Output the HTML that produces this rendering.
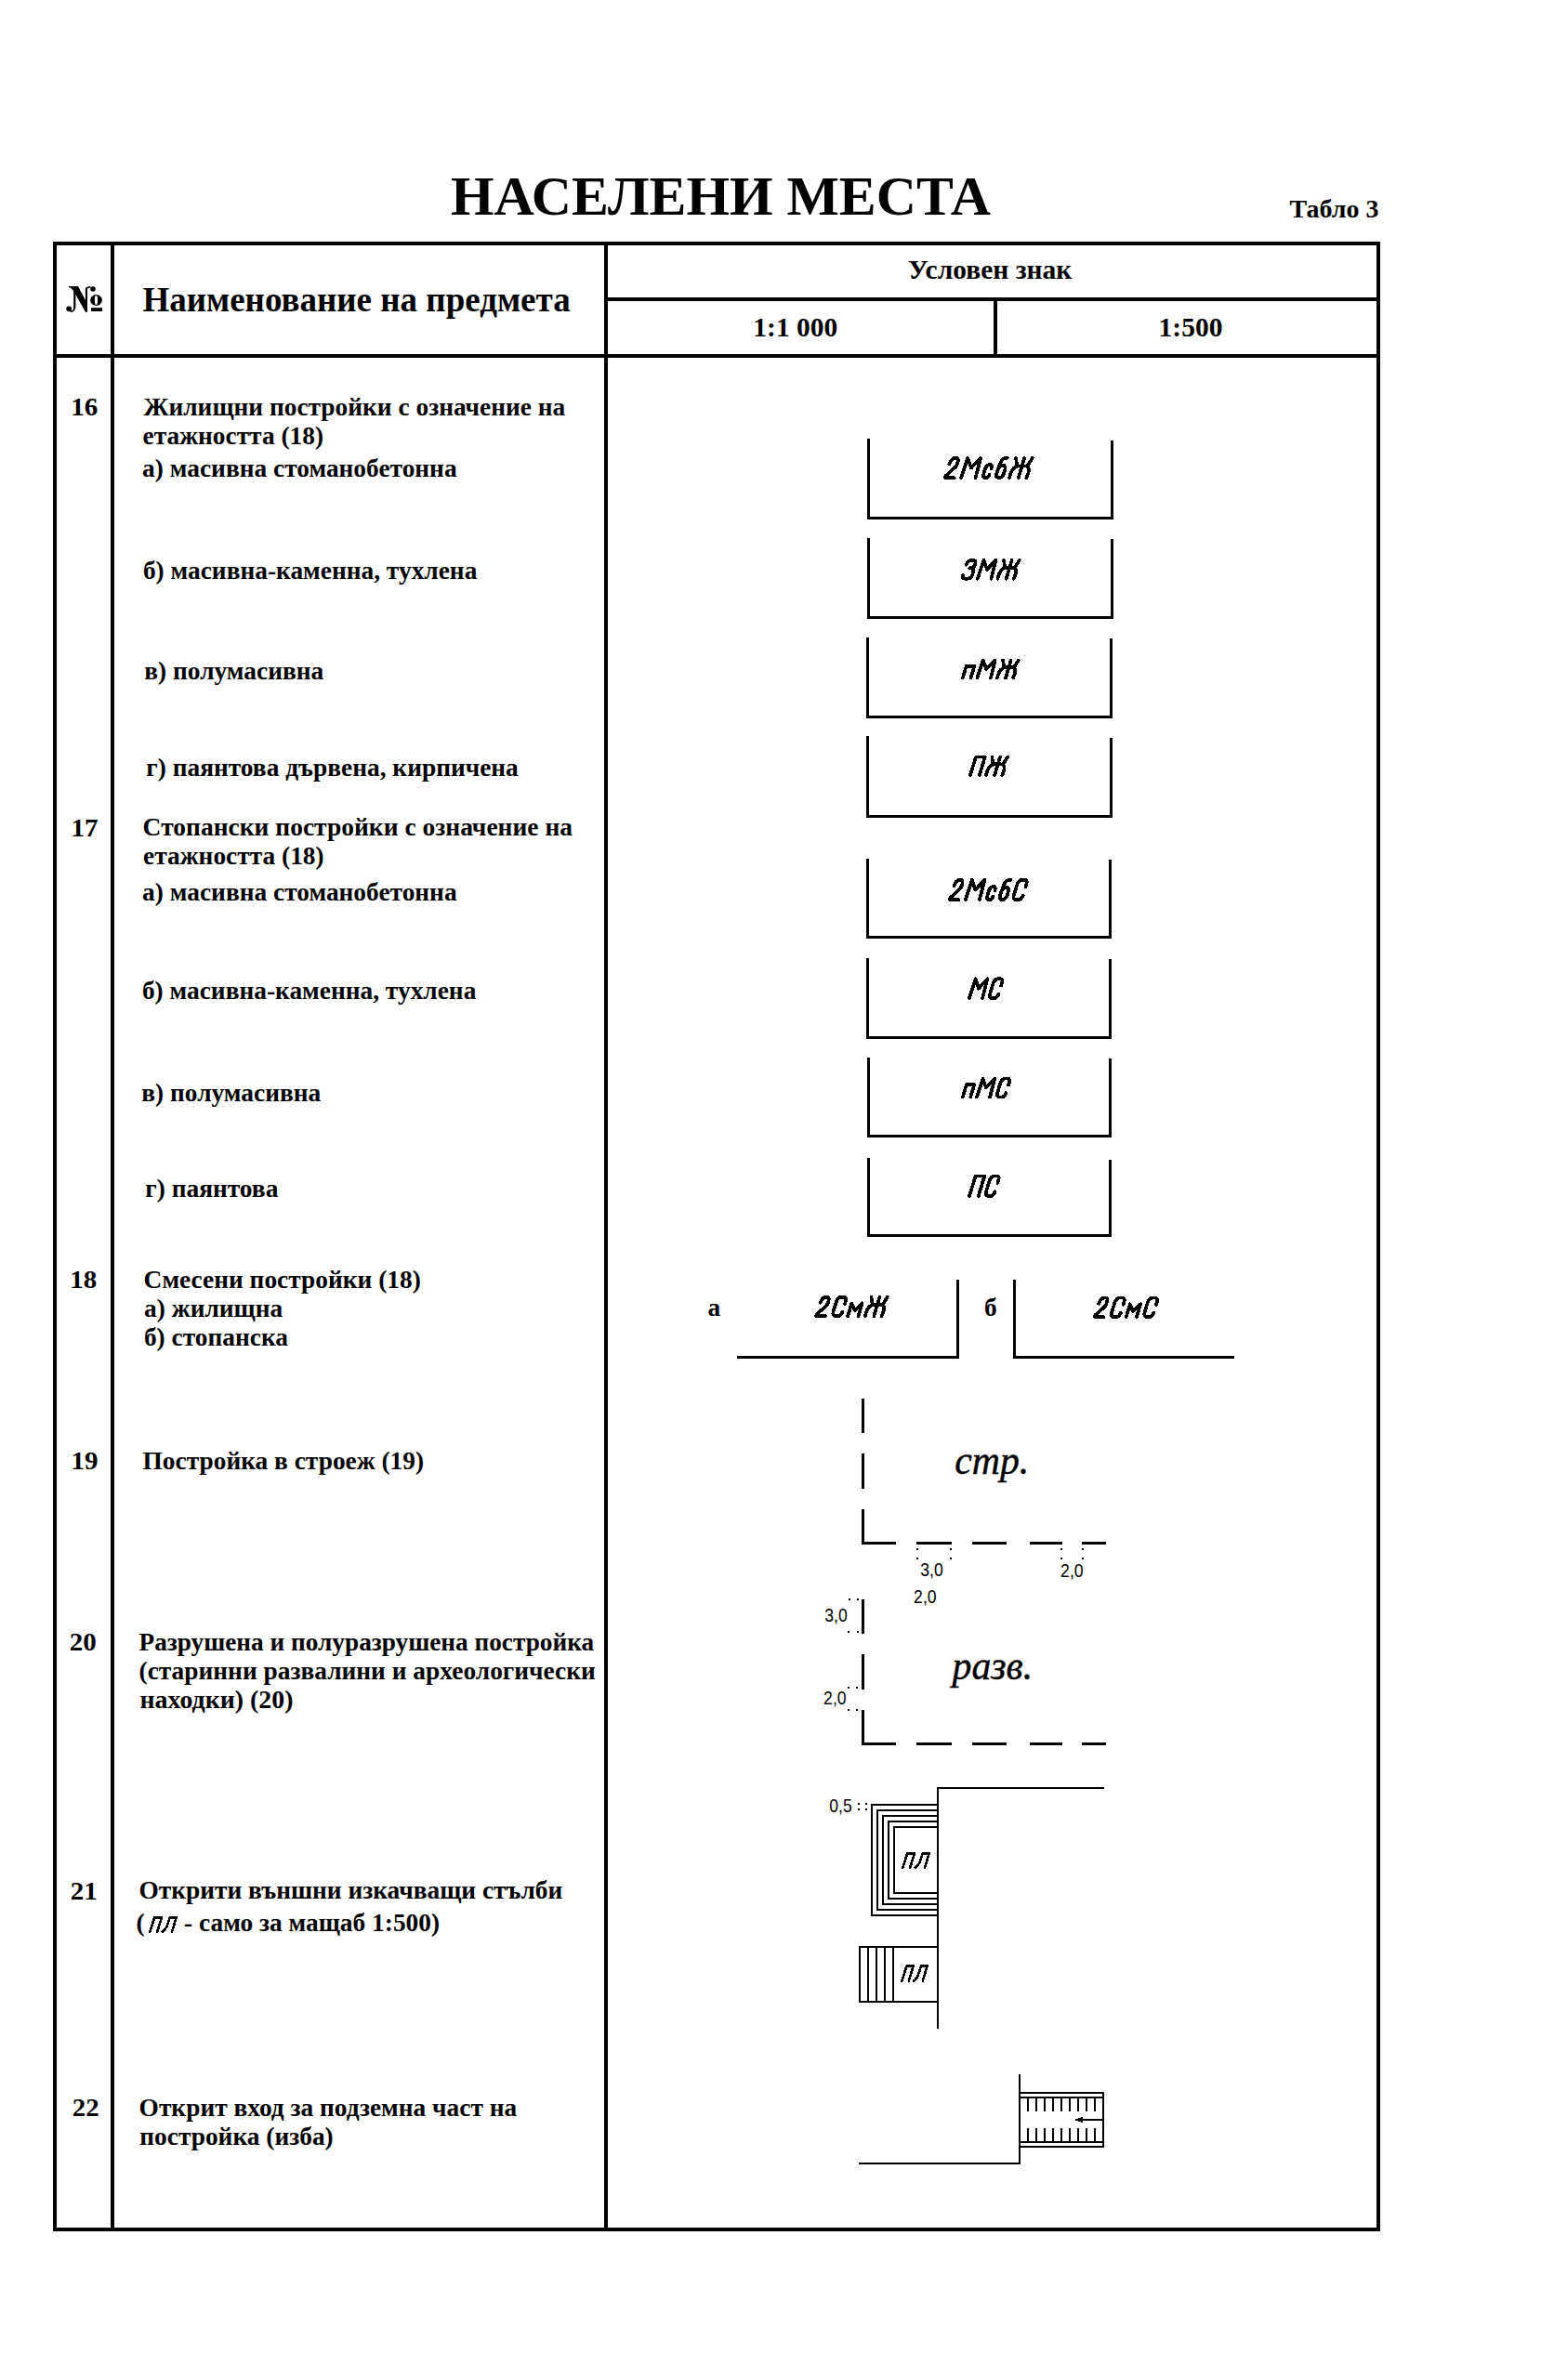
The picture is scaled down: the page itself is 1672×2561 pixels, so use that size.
<!DOCTYPE html>
<html><head><meta charset="utf-8"><style>
html,body{margin:0;padding:0;background:#fff;}
body{width:1672px;height:2561px;overflow:hidden;}
svg{display:block;}
text{fill:#000;}
</style></head><body>
<svg width="1672" height="2561" viewBox="0 0 1672 2561" shape-rendering="crispEdges">
<rect x="0" y="0" width="1672" height="2561" fill="#fff"/>
<text x="485.00" y="231" font-family="'Liberation Serif', serif" font-weight="bold" font-style="normal" font-size="59.8">НАСЕЛЕНИ МЕСТА</text>
<text x="1387.50" y="234" font-family="'Liberation Serif', serif" font-weight="bold" font-style="normal" font-size="28">Табло 3</text>
<rect x="57" y="260" width="1428" height="4"/>
<rect x="57" y="2397" width="1428" height="4"/>
<rect x="57" y="260" width="4" height="2141"/>
<rect x="1481" y="260" width="4" height="2141"/>
<rect x="119" y="260" width="4" height="2141"/>
<rect x="650" y="260" width="4" height="2141"/>
<rect x="650" y="320" width="835" height="4"/>
<rect x="57" y="381" width="1428" height="4"/>
<rect x="1069" y="320" width="4" height="65"/>
<g shape-rendering="geometricPrecision"><polygon points="74.5,308 84,308 94,327 94,335.5 91.8,335.5 79.5,313.5"/><rect x="79.2" y="309" width="2.2" height="22.5"/><path d="M80.3,330 Q80.3,335.3 75.5,335.3" fill="none" stroke="#000" stroke-width="1.6"/><circle cx="74.2" cy="332.3" r="2.9"/><rect x="74" y="308" width="6" height="1.4"/><rect x="91.9" y="309.5" width="2.1" height="26"/><path d="M93,312 Q93,308.7 97.5,308.7" fill="none" stroke="#000" stroke-width="1.6"/><circle cx="100" cy="311" r="2.8"/><ellipse cx="103.5" cy="323" rx="6.4" ry="6.1"/><ellipse cx="103.5" cy="323" rx="1.6" ry="5" fill="#fff"/><rect x="98" y="331.2" width="12" height="3.8"/></g>
<text x="153.38" y="335" font-family="'Liberation Serif', serif" font-weight="bold" font-style="normal" font-size="37">Наименование на предмета</text>
<text x="977.12" y="300" font-family="'Liberation Serif', serif" font-weight="bold" font-style="normal" font-size="29.5">Условен знак</text>
<text x="810.33" y="362" font-family="'Liberation Serif', serif" font-weight="bold" font-style="normal" font-size="29.5">1:1 000</text>
<text x="1246.62" y="362" font-family="'Liberation Serif', serif" font-weight="bold" font-style="normal" font-size="29.5">1:500</text>
<text transform="translate(76.31,447) scale(1.06,1)" x="0" y="0" font-family="'Liberation Serif', serif" font-weight="bold" font-style="normal" font-size="27.4">16</text>
<text transform="translate(76.61,900) scale(1.06,1)" x="0" y="0" font-family="'Liberation Serif', serif" font-weight="bold" font-style="normal" font-size="27.4">17</text>
<text transform="translate(75.31,1386) scale(1.06,1)" x="0" y="0" font-family="'Liberation Serif', serif" font-weight="bold" font-style="normal" font-size="27.4">18</text>
<text transform="translate(76.61,1581) scale(1.06,1)" x="0" y="0" font-family="'Liberation Serif', serif" font-weight="bold" font-style="normal" font-size="27.4">19</text>
<text transform="translate(74.81,1776) scale(1.06,1)" x="0" y="0" font-family="'Liberation Serif', serif" font-weight="bold" font-style="normal" font-size="27.4">20</text>
<text transform="translate(75.81,2044) scale(1.06,1)" x="0" y="0" font-family="'Liberation Serif', serif" font-weight="bold" font-style="normal" font-size="27.4">21</text>
<text transform="translate(77.81,2277) scale(1.06,1)" x="0" y="0" font-family="'Liberation Serif', serif" font-weight="bold" font-style="normal" font-size="27.4">22</text>
<text x="154.40" y="447" font-family="'Liberation Serif', serif" font-weight="bold" font-style="normal" font-size="27.4">Жилищни постройки с означение на</text>
<text x="153.53" y="478" font-family="'Liberation Serif', serif" font-weight="bold" font-style="normal" font-size="27.4">етажността (18)</text>
<text x="153.12" y="512.5" font-family="'Liberation Serif', serif" font-weight="bold" font-style="normal" font-size="27.4">а) масивна стоманобетонна</text>
<text x="153.88" y="623" font-family="'Liberation Serif', serif" font-weight="bold" font-style="normal" font-size="27.4">б) масивна-каменна, тухлена</text>
<text x="155.25" y="730.5" font-family="'Liberation Serif', serif" font-weight="bold" font-style="normal" font-size="27.4">в) полумасивна</text>
<text x="157.25" y="835" font-family="'Liberation Serif', serif" font-weight="bold" font-style="normal" font-size="27.4">г) паянтова дървена, кирпичена</text>
<text transform="translate(153.62,899) scale(1.0044,1)" x="0" y="0" font-family="'Liberation Serif', serif" font-weight="bold" font-style="normal" font-size="27.4">Стопански постройки с означение на</text>
<text x="154.12" y="930" font-family="'Liberation Serif', serif" font-weight="bold" font-style="normal" font-size="27.4">етажността (18)</text>
<text x="153.12" y="969" font-family="'Liberation Serif', serif" font-weight="bold" font-style="normal" font-size="27.4">а) масивна стоманобетонна</text>
<text x="152.88" y="1075" font-family="'Liberation Serif', serif" font-weight="bold" font-style="normal" font-size="27.4">б) масивна-каменна, тухлена</text>
<text x="152.25" y="1185" font-family="'Liberation Serif', serif" font-weight="bold" font-style="normal" font-size="27.4">в) полумасивна</text>
<text x="156.25" y="1288" font-family="'Liberation Serif', serif" font-weight="bold" font-style="normal" font-size="27.4">г) паянтова</text>
<text x="154.62" y="1386" font-family="'Liberation Serif', serif" font-weight="bold" font-style="normal" font-size="27.4">Смесени постройки (18)</text>
<text x="155.12" y="1417" font-family="'Liberation Serif', serif" font-weight="bold" font-style="normal" font-size="27.4">а) жилищна</text>
<text x="154.88" y="1448" font-family="'Liberation Serif', serif" font-weight="bold" font-style="normal" font-size="27.4">б) стопанска</text>
<text x="153.50" y="1581" font-family="'Liberation Serif', serif" font-weight="bold" font-style="normal" font-size="27.4">Постройка в строеж (19)</text>
<text transform="translate(149.50,1776) scale(0.996,1)" x="0" y="0" font-family="'Liberation Serif', serif" font-weight="bold" font-style="normal" font-size="27.4">Разрушена и полуразрушена постройка</text>
<text x="149.55" y="1807" font-family="'Liberation Serif', serif" font-weight="bold" font-style="normal" font-size="27.4">(старинни развалини и археологически</text>
<text transform="translate(150.54,1838) scale(1.018,1)" x="0" y="0" font-family="'Liberation Serif', serif" font-weight="bold" font-style="normal" font-size="27.4">находки) (20)</text>
<text x="149.43" y="2043" font-family="'Liberation Serif', serif" font-weight="bold" font-style="normal" font-size="27.4">Открити външни изкачващи стълби</text>
<text x="149.62" y="2277" font-family="'Liberation Serif', serif" font-weight="bold" font-style="normal" font-size="27.4">Открит вход за подземна част на</text>
<text x="150.25" y="2308" font-family="'Liberation Serif', serif" font-weight="bold" font-style="normal" font-size="27.4">постройка (изба)</text>
<text x="146.45" y="2078" font-family="'Liberation Serif', serif" font-weight="bold" font-style="normal" font-size="27.4">(</text>
<path d="M0,0 L0.02,1 L0.52,1 L0.52,0" transform="matrix(15.244,0,4.620,-15.400,161.30,2078.70)" fill="none" stroke="#000" stroke-width="2.6" stroke-linejoin="round" stroke-linecap="round" vector-effect="non-scaling-stroke"/>
<path d="M0,0 Q0.2,0.12 0.22,0.6 L0.22,1 L0.68,1 L0.68,0" transform="matrix(15.244,0,4.620,-15.400,174.71,2078.70)" fill="none" stroke="#000" stroke-width="2.6" stroke-linejoin="round" stroke-linecap="round" vector-effect="non-scaling-stroke"/>
<text x="198.00" y="2078" font-family="'Liberation Serif', serif" font-weight="bold" font-style="normal" font-size="27.4">- само за мащаб 1:500)</text>
<rect x="933" y="472" width="3" height="87"/>
<rect x="1195" y="474" width="3" height="85"/>
<rect x="933" y="556" width="265" height="3"/>
<rect x="933" y="579" width="3" height="87"/>
<rect x="1195" y="580" width="3" height="86"/>
<rect x="933" y="663" width="265" height="3"/>
<rect x="932" y="686" width="3" height="87"/>
<rect x="1194" y="687" width="3" height="86"/>
<rect x="932" y="770" width="265" height="3"/>
<rect x="932" y="792" width="3" height="88"/>
<rect x="1194" y="794" width="3" height="86"/>
<rect x="932" y="877" width="265" height="3"/>
<rect x="932" y="924" width="3" height="86"/>
<rect x="1193" y="925" width="3" height="85"/>
<rect x="932" y="1007" width="264" height="3"/>
<rect x="932" y="1031" width="3" height="87"/>
<rect x="1193" y="1032" width="3" height="86"/>
<rect x="932" y="1115" width="264" height="3"/>
<rect x="933" y="1138" width="3" height="86"/>
<rect x="1193" y="1139" width="3" height="85"/>
<rect x="933" y="1221" width="263" height="3"/>
<rect x="933" y="1246" width="3" height="85"/>
<rect x="1193" y="1248" width="3" height="83"/>
<rect x="933" y="1328" width="263" height="3"/>
<path d="M0,0.7 Q0.02,1 0.22,1 L0.25,1 Q0.42,1 0.42,0.8 L0.42,0.7 Q0.42,0.56 0.3,0.45 L0,0.1 L0,0 L0.49,0" transform="matrix(20.397,0,6.390,-21.300,1016.85,514.15)" fill="none" stroke="#000" stroke-width="3.7" stroke-linejoin="round" stroke-linecap="round" vector-effect="non-scaling-stroke"/>
<path d="M0,0 L0.03,1 L0.37,0.5 L0.71,1 L0.76,0" transform="matrix(20.397,0,6.390,-21.300,1034.19,514.15)" fill="none" stroke="#000" stroke-width="3.7" stroke-linejoin="round" stroke-linecap="round" vector-effect="non-scaling-stroke"/>
<path d="M0.32,0.45 Q0.32,0.67 0.18,0.67 Q0,0.67 0,0.4 L0,0.22 Q0,0 0.16,0 Q0.3,0 0.32,0.16" transform="matrix(20.397,0,6.390,-21.300,1057.03,514.15)" fill="none" stroke="#000" stroke-width="3.7" stroke-linejoin="round" stroke-linecap="round" vector-effect="non-scaling-stroke"/>
<path d="M0.32,1 L0.2,1 Q0.03,0.97 0.02,0.6 L0,0.25 Q0,0 0.18,0 Q0.38,0 0.38,0.25 L0.38,0.4 Q0.38,0.63 0.2,0.63 Q0.07,0.63 0.02,0.5" transform="matrix(20.397,0,6.390,-21.300,1070.90,514.15)" fill="none" stroke="#000" stroke-width="3.7" stroke-linejoin="round" stroke-linecap="round" vector-effect="non-scaling-stroke"/>
<path d="M0.48,0 L0.48,1 M0.03,1 L0.2,0.64 M0.9,1 L0.78,0.64 M0,0 C-0.02,0.32 0.05,0.6 0.3,0.6 L0.65,0.6 C0.9,0.6 0.96,0.32 0.9,0" transform="matrix(20.397,0,6.390,-21.300,1085.99,514.15)" fill="none" stroke="#000" stroke-width="3.7" stroke-linejoin="round" stroke-linecap="round" vector-effect="non-scaling-stroke"/>
<path d="M0,0.75 L0.03,0.85 Q0.08,1 0.22,1 L0.32,1 Q0.5,1 0.5,0.82 L0.5,0.75 Q0.5,0.57 0.26,0.57 M0.26,0.57 Q0.52,0.57 0.52,0.33 L0.52,0.22 Q0.52,0 0.3,0 L0.18,0 Q0,0 0,0.2" transform="matrix(19.291,0,5.970,-19.900,1034.85,622.75)" fill="none" stroke="#000" stroke-width="3.7" stroke-linejoin="round" stroke-linecap="round" vector-effect="non-scaling-stroke"/>
<path d="M0,0 L0.03,1 L0.37,0.5 L0.71,1 L0.76,0" transform="matrix(19.291,0,5.970,-19.900,1051.83,622.75)" fill="none" stroke="#000" stroke-width="3.7" stroke-linejoin="round" stroke-linecap="round" vector-effect="non-scaling-stroke"/>
<path d="M0.48,0 L0.48,1 M0.03,1 L0.2,0.64 M0.9,1 L0.78,0.64 M0,0 C-0.02,0.32 0.05,0.6 0.3,0.6 L0.65,0.6 C0.9,0.6 0.96,0.32 0.9,0" transform="matrix(19.291,0,5.970,-19.900,1073.43,622.75)" fill="none" stroke="#000" stroke-width="3.7" stroke-linejoin="round" stroke-linecap="round" vector-effect="non-scaling-stroke"/>
<path d="M0,0 L0,0.67 L0.45,0.67 L0.45,0" transform="matrix(19.158,0,5.700,-19.000,1035.85,729.55)" fill="none" stroke="#000" stroke-width="3.7" stroke-linejoin="round" stroke-linecap="round" vector-effect="non-scaling-stroke"/>
<path d="M0,0 L0.03,1 L0.37,0.5 L0.71,1 L0.76,0" transform="matrix(19.158,0,5.700,-19.000,1051.37,729.55)" fill="none" stroke="#000" stroke-width="3.7" stroke-linejoin="round" stroke-linecap="round" vector-effect="non-scaling-stroke"/>
<path d="M0.48,0 L0.48,1 M0.03,1 L0.2,0.64 M0.9,1 L0.78,0.64 M0,0 C-0.02,0.32 0.05,0.6 0.3,0.6 L0.65,0.6 C0.9,0.6 0.96,0.32 0.9,0" transform="matrix(19.158,0,5.700,-19.000,1072.82,729.55)" fill="none" stroke="#000" stroke-width="3.7" stroke-linejoin="round" stroke-linecap="round" vector-effect="non-scaling-stroke"/>
<path d="M0,0 L0.02,1 L0.52,1 L0.52,0" transform="matrix(19.378,0,5.820,-19.400,1043.85,833.95)" fill="none" stroke="#000" stroke-width="3.7" stroke-linejoin="round" stroke-linecap="round" vector-effect="non-scaling-stroke"/>
<path d="M0.48,0 L0.48,1 M0.03,1 L0.2,0.64 M0.9,1 L0.78,0.64 M0,0 C-0.02,0.32 0.05,0.6 0.3,0.6 L0.65,0.6 C0.9,0.6 0.96,0.32 0.9,0" transform="matrix(19.378,0,5.820,-19.400,1060.90,833.95)" fill="none" stroke="#000" stroke-width="3.7" stroke-linejoin="round" stroke-linecap="round" vector-effect="non-scaling-stroke"/>
<path d="M0,0.7 Q0.02,1 0.22,1 L0.25,1 Q0.42,1 0.42,0.8 L0.42,0.7 Q0.42,0.56 0.3,0.45 L0,0.1 L0,0 L0.49,0" transform="matrix(19.925,0,6.390,-21.300,1021.85,968.15)" fill="none" stroke="#000" stroke-width="3.7" stroke-linejoin="round" stroke-linecap="round" vector-effect="non-scaling-stroke"/>
<path d="M0,0 L0.03,1 L0.37,0.5 L0.71,1 L0.76,0" transform="matrix(19.925,0,6.390,-21.300,1038.79,968.15)" fill="none" stroke="#000" stroke-width="3.7" stroke-linejoin="round" stroke-linecap="round" vector-effect="non-scaling-stroke"/>
<path d="M0.32,0.45 Q0.32,0.67 0.18,0.67 Q0,0.67 0,0.4 L0,0.22 Q0,0 0.16,0 Q0.3,0 0.32,0.16" transform="matrix(19.925,0,6.390,-21.300,1061.10,968.15)" fill="none" stroke="#000" stroke-width="3.7" stroke-linejoin="round" stroke-linecap="round" vector-effect="non-scaling-stroke"/>
<path d="M0.32,1 L0.2,1 Q0.03,0.97 0.02,0.6 L0,0.25 Q0,0 0.18,0 Q0.38,0 0.38,0.25 L0.38,0.4 Q0.38,0.63 0.2,0.63 Q0.07,0.63 0.02,0.5" transform="matrix(19.925,0,6.390,-21.300,1074.65,968.15)" fill="none" stroke="#000" stroke-width="3.7" stroke-linejoin="round" stroke-linecap="round" vector-effect="non-scaling-stroke"/>
<path d="M0.5,0.65 L0.5,0.8 Q0.5,1 0.33,1 L0.2,1 Q0,1 0,0.7 L0,0.25 Q0,0 0.2,0 L0.3,0 Q0.48,0 0.5,0.22" transform="matrix(19.925,0,6.390,-21.300,1089.40,968.15)" fill="none" stroke="#000" stroke-width="3.7" stroke-linejoin="round" stroke-linecap="round" vector-effect="non-scaling-stroke"/>
<path d="M0,0 L0.03,1 L0.37,0.5 L0.71,1 L0.76,0" transform="matrix(18.660,0,6.270,-20.900,1042.85,1074.15)" fill="none" stroke="#000" stroke-width="3.7" stroke-linejoin="round" stroke-linecap="round" vector-effect="non-scaling-stroke"/>
<path d="M0.5,0.65 L0.5,0.8 Q0.5,1 0.33,1 L0.2,1 Q0,1 0,0.7 L0,0.25 Q0,0 0.2,0 L0.3,0 Q0.48,0 0.5,0.22" transform="matrix(18.660,0,6.270,-20.900,1063.75,1074.15)" fill="none" stroke="#000" stroke-width="3.7" stroke-linejoin="round" stroke-linecap="round" vector-effect="non-scaling-stroke"/>
<path d="M0,0 L0,0.67 L0.45,0.67 L0.45,0" transform="matrix(18.642,0,6.000,-20.000,1035.85,1180.55)" fill="none" stroke="#000" stroke-width="3.7" stroke-linejoin="round" stroke-linecap="round" vector-effect="non-scaling-stroke"/>
<path d="M0,0 L0.03,1 L0.37,0.5 L0.71,1 L0.76,0" transform="matrix(18.642,0,6.000,-20.000,1050.95,1180.55)" fill="none" stroke="#000" stroke-width="3.7" stroke-linejoin="round" stroke-linecap="round" vector-effect="non-scaling-stroke"/>
<path d="M0.5,0.65 L0.5,0.8 Q0.5,1 0.33,1 L0.2,1 Q0,1 0,0.7 L0,0.25 Q0,0 0.2,0 L0.3,0 Q0.48,0 0.5,0.22" transform="matrix(18.642,0,6.000,-20.000,1071.83,1180.55)" fill="none" stroke="#000" stroke-width="3.7" stroke-linejoin="round" stroke-linecap="round" vector-effect="non-scaling-stroke"/>
<path d="M0,0 L0.02,1 L0.52,1 L0.52,0" transform="matrix(19.051,0,6.510,-21.700,1042.85,1287.05)" fill="none" stroke="#000" stroke-width="3.7" stroke-linejoin="round" stroke-linecap="round" vector-effect="non-scaling-stroke"/>
<path d="M0.5,0.65 L0.5,0.8 Q0.5,1 0.33,1 L0.2,1 Q0,1 0,0.7 L0,0.25 Q0,0 0.2,0 L0.3,0 Q0.48,0 0.5,0.22" transform="matrix(19.051,0,6.510,-21.700,1059.61,1287.05)" fill="none" stroke="#000" stroke-width="3.7" stroke-linejoin="round" stroke-linecap="round" vector-effect="non-scaling-stroke"/>
<text x="761.62" y="1416" font-family="'Liberation Serif', serif" font-weight="bold" font-style="normal" font-size="27.4">а</text>
<rect x="793" y="1459" width="239" height="3"/>
<rect x="1029" y="1377" width="3" height="85"/>
<path d="M0,0.7 Q0.02,1 0.22,1 L0.25,1 Q0.42,1 0.42,0.8 L0.42,0.7 Q0.42,0.56 0.3,0.45 L0,0.1 L0,0 L0.49,0" transform="matrix(19.874,0,6.150,-20.500,878.25,1416.15)" fill="none" stroke="#000" stroke-width="3.7" stroke-linejoin="round" stroke-linecap="round" vector-effect="non-scaling-stroke"/>
<path d="M0.5,0.65 L0.5,0.8 Q0.5,1 0.33,1 L0.2,1 Q0,1 0,0.7 L0,0.25 Q0,0 0.2,0 L0.3,0 Q0.48,0 0.5,0.22" transform="matrix(19.874,0,6.150,-20.500,895.14,1416.15)" fill="none" stroke="#000" stroke-width="3.7" stroke-linejoin="round" stroke-linecap="round" vector-effect="non-scaling-stroke"/>
<path d="M0,0 L0,0.67 L0.285,0.3 L0.57,0.67 L0.57,0" transform="matrix(19.874,0,6.150,-20.500,912.23,1416.15)" fill="none" stroke="#000" stroke-width="3.7" stroke-linejoin="round" stroke-linecap="round" vector-effect="non-scaling-stroke"/>
<path d="M0.48,0 L0.48,1 M0.03,1 L0.2,0.64 M0.9,1 L0.78,0.64 M0,0 C-0.02,0.32 0.05,0.6 0.3,0.6 L0.65,0.6 C0.9,0.6 0.96,0.32 0.9,0" transform="matrix(19.874,0,6.150,-20.500,930.72,1416.15)" fill="none" stroke="#000" stroke-width="3.7" stroke-linejoin="round" stroke-linecap="round" vector-effect="non-scaling-stroke"/>
<text x="1058.88" y="1416" font-family="'Liberation Serif', serif" font-weight="bold" font-style="normal" font-size="27.4">б</text>
<rect x="1090" y="1377" width="3" height="85"/>
<rect x="1090" y="1459" width="238" height="3"/>
<path d="M0,0.7 Q0.02,1 0.22,1 L0.25,1 Q0.42,1 0.42,0.8 L0.42,0.7 Q0.42,0.56 0.3,0.45 L0,0.1 L0,0 L0.49,0" transform="matrix(19.783,0,6.180,-20.600,1177.85,1417.15)" fill="none" stroke="#000" stroke-width="3.7" stroke-linejoin="round" stroke-linecap="round" vector-effect="non-scaling-stroke"/>
<path d="M0.5,0.65 L0.5,0.8 Q0.5,1 0.33,1 L0.2,1 Q0,1 0,0.7 L0,0.25 Q0,0 0.2,0 L0.3,0 Q0.48,0 0.5,0.22" transform="matrix(19.783,0,6.180,-20.600,1194.67,1417.15)" fill="none" stroke="#000" stroke-width="3.7" stroke-linejoin="round" stroke-linecap="round" vector-effect="non-scaling-stroke"/>
<path d="M0,0 L0,0.67 L0.285,0.3 L0.57,0.67 L0.57,0" transform="matrix(19.783,0,6.180,-20.600,1211.68,1417.15)" fill="none" stroke="#000" stroke-width="3.7" stroke-linejoin="round" stroke-linecap="round" vector-effect="non-scaling-stroke"/>
<path d="M0.5,0.65 L0.5,0.8 Q0.5,1 0.33,1 L0.2,1 Q0,1 0,0.7 L0,0.25 Q0,0 0.2,0 L0.3,0 Q0.48,0 0.5,0.22" transform="matrix(19.783,0,6.180,-20.600,1230.08,1417.15)" fill="none" stroke="#000" stroke-width="3.7" stroke-linejoin="round" stroke-linecap="round" vector-effect="non-scaling-stroke"/>
<rect x="927" y="1505" width="3" height="37"/>
<rect x="927" y="1564" width="3" height="38"/>
<rect x="927" y="1624" width="3" height="38"/>
<rect x="927" y="1659" width="37" height="3"/>
<rect x="986" y="1659" width="38" height="3"/>
<rect x="1046" y="1659" width="37" height="3"/>
<rect x="1108" y="1659" width="35" height="3"/>
<rect x="1164" y="1659" width="26" height="3"/>
<text stroke="#000" stroke-width="0.45" transform="translate(1027.19,1586) scale(0.95,1)" x="0" y="0" font-family="'Liberation Serif', serif" font-weight="normal" font-style="italic" font-size="44">стр.</text>
<rect x="986" y="1666" width="2" height="2"/>
<rect x="986" y="1676" width="2" height="2"/>
<rect x="1022" y="1666" width="2" height="2"/>
<rect x="1022" y="1676" width="2" height="2"/>
<rect x="1141" y="1666" width="2" height="2"/>
<rect x="1141" y="1676" width="2" height="2"/>
<rect x="1164" y="1666" width="2" height="2"/>
<rect x="1164" y="1676" width="2" height="2"/>
<text transform="translate(990.34,1696) scale(0.88,1)" x="0" y="0" font-family="'Liberation Sans', sans-serif" font-weight="normal" font-style="normal" font-size="20">3,0</text>
<text transform="translate(1141.12,1697) scale(0.88,1)" x="0" y="0" font-family="'Liberation Sans', sans-serif" font-weight="normal" font-style="normal" font-size="20">2,0</text>
<rect x="927" y="1720.5" width="3" height="37"/>
<rect x="927" y="1779.5" width="3" height="38"/>
<rect x="927" y="1839.5" width="3" height="38"/>
<rect x="927" y="1874.5" width="37" height="3"/>
<rect x="986" y="1874.5" width="38" height="3"/>
<rect x="1046" y="1874.5" width="37" height="3"/>
<rect x="1108" y="1874.5" width="35" height="3"/>
<rect x="1164" y="1874.5" width="26" height="3"/>
<text stroke="#000" stroke-width="0.45" transform="translate(1024.49,1807) scale(0.95,1)" x="0" y="0" font-family="'Liberation Serif', serif" font-weight="normal" font-style="italic" font-size="44">разв.</text>
<text transform="translate(983.12,1725) scale(0.88,1)" x="0" y="0" font-family="'Liberation Sans', sans-serif" font-weight="normal" font-style="normal" font-size="20">2,0</text>
<text transform="translate(887.34,1745) scale(0.88,1)" x="0" y="0" font-family="'Liberation Sans', sans-serif" font-weight="normal" font-style="normal" font-size="20">3,0</text>
<text transform="translate(886.12,1834) scale(0.88,1)" x="0" y="0" font-family="'Liberation Sans', sans-serif" font-weight="normal" font-style="normal" font-size="20">2,0</text>
<rect x="913" y="1720" width="2" height="2"/>
<rect x="922" y="1720" width="2" height="2"/>
<rect x="912" y="1755" width="2" height="2"/>
<rect x="922" y="1755" width="2" height="2"/>
<rect x="912" y="1815" width="2" height="2"/>
<rect x="921" y="1815" width="2" height="2"/>
<rect x="912" y="1839" width="2" height="2"/>
<rect x="921" y="1839" width="2" height="2"/>
<rect x="1008" y="1923" width="2" height="260"/>
<rect x="1008" y="1923" width="180" height="2"/>
<rect x="937" y="1941" width="71" height="2"/>
<rect x="937" y="1941" width="2" height="121"/>
<rect x="937" y="2060" width="71" height="2"/>
<rect x="943" y="1947" width="65" height="2"/>
<rect x="943" y="1947" width="2" height="109"/>
<rect x="943" y="2054" width="65" height="2"/>
<rect x="949" y="1953" width="59" height="2"/>
<rect x="949" y="1953" width="2" height="97"/>
<rect x="949" y="2048" width="59" height="2"/>
<rect x="955" y="1959" width="53" height="2"/>
<rect x="955" y="1959" width="2" height="85"/>
<rect x="955" y="2042" width="53" height="2"/>
<rect x="961" y="1965" width="47" height="2"/>
<rect x="961" y="1965" width="2" height="73"/>
<rect x="961" y="2036" width="47" height="2"/>
<path d="M0,0 L0.02,1 L0.52,1 L0.52,0" transform="matrix(15.244,0,4.620,-15.400,971.30,2009.70)" fill="none" stroke="#000" stroke-width="2.6" stroke-linejoin="round" stroke-linecap="round" vector-effect="non-scaling-stroke"/>
<path d="M0,0 Q0.2,0.12 0.22,0.6 L0.22,1 L0.68,1 L0.68,0" transform="matrix(15.244,0,4.620,-15.400,984.71,2009.70)" fill="none" stroke="#000" stroke-width="2.6" stroke-linejoin="round" stroke-linecap="round" vector-effect="non-scaling-stroke"/>
<text transform="translate(892.34,1950) scale(0.88,1)" x="0" y="0" font-family="'Liberation Sans', sans-serif" font-weight="normal" font-style="normal" font-size="20">0,5</text>
<rect x="923" y="1940" width="2" height="2"/>
<rect x="923" y="1946" width="2" height="2"/>
<rect x="931" y="1940" width="2" height="2"/>
<rect x="931" y="1946" width="2" height="2"/>
<rect x="924" y="2094" width="84" height="2"/>
<rect x="924" y="2153" width="84" height="2"/>
<rect x="924" y="2094" width="2" height="61"/>
<rect x="933" y="2094" width="2" height="61"/>
<rect x="942" y="2094" width="2" height="61"/>
<rect x="951" y="2094" width="2" height="61"/>
<rect x="960" y="2094" width="2" height="61"/>
<path d="M0,0 L0.02,1 L0.52,1 L0.52,0" transform="matrix(14.410,0,4.920,-16.400,970.30,2131.70)" fill="none" stroke="#000" stroke-width="2.6" stroke-linejoin="round" stroke-linecap="round" vector-effect="non-scaling-stroke"/>
<path d="M0,0 Q0.2,0.12 0.22,0.6 L0.22,1 L0.68,1 L0.68,0" transform="matrix(14.410,0,4.920,-16.400,982.98,2131.70)" fill="none" stroke="#000" stroke-width="2.6" stroke-linejoin="round" stroke-linecap="round" vector-effect="non-scaling-stroke"/>
<rect x="924" y="2327" width="174" height="2"/>
<rect x="1096" y="2232" width="2" height="97"/>
<rect x="1096" y="2251" width="92" height="2"/>
<rect x="1096" y="2309" width="92" height="2"/>
<rect x="1186" y="2251" width="2" height="60"/>
<rect x="1096" y="2256" width="92" height="2"/>
<rect x="1096" y="2304" width="92" height="2"/>
<rect x="1105" y="2258" width="2" height="14"/>
<rect x="1105" y="2290" width="2" height="14"/>
<rect x="1114" y="2258" width="2" height="14"/>
<rect x="1114" y="2290" width="2" height="14"/>
<rect x="1123" y="2258" width="2" height="14"/>
<rect x="1123" y="2290" width="2" height="14"/>
<rect x="1132" y="2258" width="2" height="14"/>
<rect x="1132" y="2290" width="2" height="14"/>
<rect x="1141" y="2258" width="2" height="14"/>
<rect x="1141" y="2290" width="2" height="14"/>
<rect x="1150" y="2258" width="2" height="14"/>
<rect x="1150" y="2290" width="2" height="14"/>
<rect x="1159" y="2258" width="2" height="14"/>
<rect x="1159" y="2290" width="2" height="14"/>
<rect x="1168" y="2258" width="2" height="14"/>
<rect x="1168" y="2290" width="2" height="14"/>
<rect x="1177" y="2258" width="2" height="14"/>
<rect x="1177" y="2290" width="2" height="14"/>
<rect x="1157" y="2280" width="30" height="2"/>
<polygon points="1157,2281 1165,2277.5 1165,2284.5"/>
</svg>
</body></html>
